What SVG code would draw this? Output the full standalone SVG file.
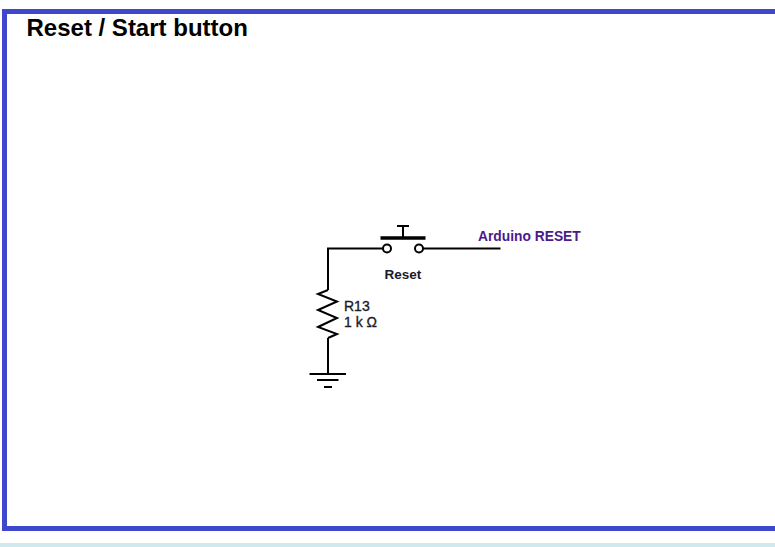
<svg xmlns="http://www.w3.org/2000/svg" width="775" height="547" viewBox="0 0 775 547">
<style>
text{font-family:"Liberation Sans",Arial,sans-serif;font-weight:bold}
.w{fill:none;stroke:#000;stroke-width:2}
.lbl{font-size:13.500px;fill:#1a1a2a}
.val{font-size:14px;font-weight:normal;fill:#1a1a2a;stroke:#1a1a2a;stroke-width:.35}
</style>
<rect width="775" height="547" fill="#fff"/>
<rect x="0" y="543" width="775" height="4" fill="#cfe9ef"/>
<path d="M775 11.500H4.500V528.500H775" fill="none" stroke="#3f48cc" stroke-width="5"/>
<text id="title" x="26.500" y="36" font-size="24px" fill="#000">Reset / Start button</text>
<g id="connectors">
<path class="w" d="M383 248.500H328V290M328 338V374"/>
<path class="w" d="M422.500 248.500H500.500"/>
</g>
<g id="button">
<circle class="w" cx="387" cy="248.500" r="4" stroke-width="1.800"/>
<circle class="w" cx="419" cy="248.500" r="4" stroke-width="1.800"/>
<path d="M380.500 238H425.500" fill="none" stroke="#000" stroke-width="3.500"/>
<path class="w" d="M403 238V226M397 226H409"/>
<text class="lbl" x="384.500" y="279">Reset</text>
</g>
<g id="resistor">
<path class="w" d="M328 290L318 294L337 301.500L318 310L337 318L318 327L337 334L328 338"/>
<text class="val" x="344" y="310.500">R13</text>
<text class="val" x="344" y="327">1 k Ω</text>
</g>
<g id="ground">
<path class="w" d="M309.500 374H346M317 380H338.500M324 387H332"/>
</g>
<g id="reset-signal">
<text x="478" y="240.500" font-size="13.800px" fill="#4b1a8c">Arduino RESET</text>
</g>
</svg>
